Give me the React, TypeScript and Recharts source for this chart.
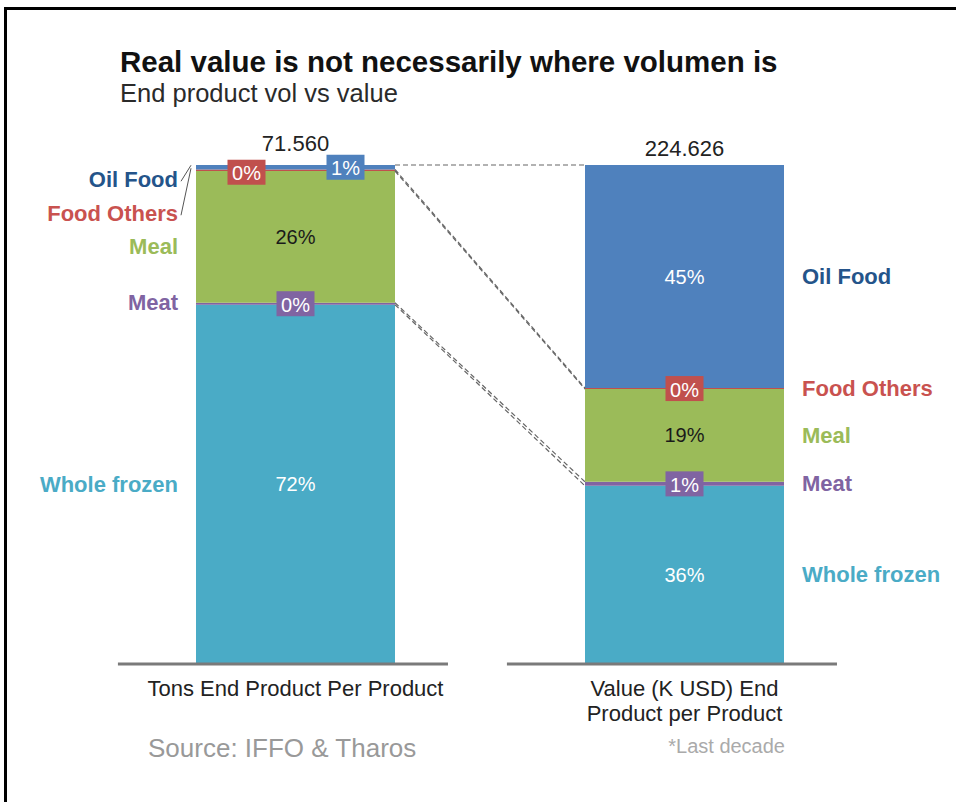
import React from 'react';
import { ComposedChart, Bar, XAxis, YAxis, ReferenceLine, ReferenceDot } from 'recharts';

const CATEGORIES = ['Tons End Product Per Product', 'Value (K USD) End\nProduct per Product'];
const TOTALS = ['71.560', '224.626'];
const SERIES = ['Whole frozen', 'Meat', 'Meal', 'Food Others', 'Oil Food'];
// shares in %, bottom to top
const WHOLE_FROZEN = [72.0, 35.7];
const MEAT = [0.4, 0.8];
const MEAL = [26.4, 18.6];
const FOOD_OTHERS = [0.3, 0.2];
const OIL_FOOD = [0.9, 44.7];

const VALUES: Record<string, number[]> = {
  'Whole frozen': WHOLE_FROZEN,
  Meat: MEAT,
  Meal: MEAL,
  'Food Others': FOOD_OTHERS,
  'Oil Food': OIL_FOOD,
};

const FILL: Record<string, string> = {
  'Whole frozen': '#4aabc6',
  Meat: '#8064a2',
  Meal: '#9bbb59',
  'Food Others': '#c0504d',
  'Oil Food': '#4f81bd',
};
const NAME_COLOR: Record<string, string> = {
  'Whole frozen': '#4aabc6',
  Meat: '#8064a2',
  Meal: '#9bbb59',
  'Food Others': '#c9524f',
  'Oil Food': '#24548a',
};
const PCT_COLOR: Record<string, string> = {
  'Whole frozen': '#ffffff',
  Meal: '#1a1a1a',
  'Oil Food': '#ffffff',
};

// layout
const FONT = '"Liberation Sans", Arial, sans-serif';
const W = 956;
const H = 802;
const PLOT_TOP = 165;
const PLOT_BOTTOM = 664;
const PLOT_LEFT = 101;
const PLOT_RIGHT = 879;
const XAXIS_H = 70;
const X_DOMAIN = [0, 4];
const POSITIONS = [1, 3]; // bar centres in x units
const UNIT = (PLOT_RIGHT - PLOT_LEFT) / (X_DOMAIN[1] - X_DOMAIN[0]);
const BAR_PX = 199;
const HALF = BAR_PX / 2 / UNIT;
const AXIS_SEG = [-0.913, 0.784];
const NAME_GAP = 18;
const TOTAL_LIFT = [22, 17];
const BOX_W = 38;
const BOX_H = 25;
// nudges that keep the small labels of the left bar apart
const BOX_NUDGE: Record<string, [number, number]>[] = [
  { 'Food Others': [-49, 2], 'Oil Food': [50, 0] },
  {},
];
const NAME_NUDGE: Record<string, number>[] = [{ 'Oil Food': 12, 'Food Others': 43, Meal: 10, Meat: -1 }, {}];

const rows = CATEGORIES.map((c, i) => {
  const row: Record<string, string | number> = { name: c, pos: POSITIONS[i] };
  for (const s of SERIES) row[s] = VALUES[s][i];
  return row;
});

// stacked bottoms/tops per category
const stacks = CATEGORIES.map((_, i) => {
  let acc = 0;
  return SERIES.map((s) => {
    const lo = acc;
    acc += VALUES[s][i];
    return { series: s, lo, hi: acc, value: VALUES[s][i] };
  });
});

function SegmentLabel(props: any) {
  const { cx, cy, series, value, cat } = props;
  const pct = `${Math.round(value)}%`;
  const boxed = value < 3;
  const [nx, ny] = BOX_NUDGE[cat][series] ?? [0, 0];
  const nameY = cy + (NAME_NUDGE[cat][series] ?? 0);
  const nameX = cat === 0 ? cx - BAR_PX / 2 - NAME_GAP : cx + BAR_PX / 2 + NAME_GAP;
  const leader = cat === 0 && (series === 'Oil Food' || series === 'Food Others');
  return (
    <g>
      {boxed ? (
        <g>
          <rect x={cx + nx - BOX_W / 2} y={cy + ny - BOX_H / 2} width={BOX_W} height={BOX_H} fill={FILL[series]} />
          <text x={cx + nx} y={cy + ny + 1} textAnchor="middle" dominantBaseline="central" fill="#fff"
            fontSize={20} fontFamily={FONT}>{pct}</text>
        </g>
      ) : (
        <text x={cx} y={cy} textAnchor="middle" dominantBaseline="central" fill={PCT_COLOR[series]}
          fontSize={20} fontFamily={FONT}>{pct}</text>
      )}
      {leader && (
        <line x1={nameX + 3} y1={nameY + 2} x2={cx - BAR_PX / 2 - 5} y2={cy - 2} stroke="#555" strokeWidth={1} />
      )}
      <text x={nameX} y={nameY} textAnchor={cat === 0 ? 'end' : 'start'} dominantBaseline="central"
        fill={NAME_COLOR[series]} fontSize={22} fontWeight="bold" fontFamily={FONT}>{series}</text>
    </g>
  );
}

function TotalLabel(props: any) {
  const { cx, cy, cat } = props;
  return (
    <text x={cx} y={cy - TOTAL_LIFT[cat]} textAnchor="middle" dominantBaseline="central" fill="#222"
      fontSize={22} fontFamily={FONT}>{TOTALS[cat]}</text>
  );
}

function CategoryTick(props: any) {
  const { x, y, payload } = props;
  const i = POSITIONS.indexOf(payload.value);
  if (i < 0) return null;
  const lines = CATEGORIES[i].split('\n');
  return (
    <text x={x} y={y + 24} textAnchor="middle" fill="#222" fontSize={22} fontFamily={FONT}>
      {lines.map((l, k) => (
        <tspan key={k} x={x} dy={k === 0 ? 0 : 25}>{l}</tspan>
      ))}
    </text>
  );
}

export default function App() {
  return (
    <div style={{ position: 'absolute', left: 0, top: 0, width: W, height: H, overflow: 'hidden', background: '#fff', fontFamily: FONT }}>
      <div style={{ position: 'absolute', left: 4, top: 7, width: 1000, height: 1000, border: '3px solid #000' }} />
      <div style={{ position: 'absolute', left: 120, top: 47, fontSize: 29.5, lineHeight: 1, fontWeight: 'bold', color: '#111', whiteSpace: 'nowrap' }}>
        Real value is not necessarily where volumen is
      </div>
      <div style={{ position: 'absolute', left: 120, top: 81, fontSize: 25.5, lineHeight: 1, color: '#2a2a2a', whiteSpace: 'nowrap' }}>
        End product vol vs value
      </div>
      <div style={{ position: 'absolute', left: 0, top: 0 }}>
        <ComposedChart
          width={W}
          height={H}
          data={rows}
          margin={{ top: PLOT_TOP, left: PLOT_LEFT, right: W - PLOT_RIGHT, bottom: H - PLOT_BOTTOM - XAXIS_H }}
        >
          <XAxis
            type="number"
            dataKey="pos"
            domain={X_DOMAIN}
            ticks={POSITIONS}
            allowDataOverflow
            axisLine={false}
            tickLine={false}
            height={XAXIS_H}
            tick={<CategoryTick />}
            interval={0}
          />
          <YAxis type="number" domain={[0, 100]} allowDataOverflow hide />
          {SERIES.map((s) => (
            <Bar key={s} dataKey={s} stackId="a" fill={FILL[s]} barSize={BAR_PX} isAnimationActive={false} />
          ))}
          {POSITIONS.map((p, i) => (
            <ReferenceLine
              key={`ax${i}`}
              segment={[{ x: p + AXIS_SEG[0], y: 0 }, { x: p + AXIS_SEG[1], y: 0 }]}
              stroke="#7a7a7a"
              strokeWidth={3}
              ifOverflow="visible"
            />
          ))}
          {stacks[0].map((seg, k) => (
            <ReferenceLine
              key={`c${k}`}
              segment={[
                { x: POSITIONS[0] + HALF, y: seg.hi },
                { x: POSITIONS[1] - HALF, y: stacks[1][k].hi },
              ]}
              stroke="#666"
              strokeWidth={1.2}
              strokeDasharray="5 3"
              ifOverflow="visible"
            />
          ))}
          {stacks.map((st, i) =>
            st.map((seg) => (
              <ReferenceDot
                key={`l${i}${seg.series}`}
                x={POSITIONS[i]}
                y={(seg.lo + seg.hi) / 2}
                r={0}
                ifOverflow="visible"
                shape={(p: any) => <SegmentLabel {...p} series={seg.series} value={seg.value} cat={i} />}
              />
            ))
          )}
          {POSITIONS.map((p, i) => (
            <ReferenceDot
              key={`t${i}`}
              x={p}
              y={stacks[i][SERIES.length - 1].hi}
              r={0}
              ifOverflow="visible"
              shape={(q: any) => <TotalLabel {...q} cat={i} />}
            />
          ))}
        </ComposedChart>
      </div>
      <div style={{ position: 'absolute', left: 148, top: 735, fontSize: 26, lineHeight: 1, color: '#999', whiteSpace: 'nowrap' }}>
        Source: IFFO &amp; Tharos
      </div>
      <div style={{ position: 'absolute', right: 171, top: 736, fontSize: 20, lineHeight: 1, color: '#aaa', whiteSpace: 'nowrap' }}>
        *Last decade
      </div>
    </div>
  );
}
